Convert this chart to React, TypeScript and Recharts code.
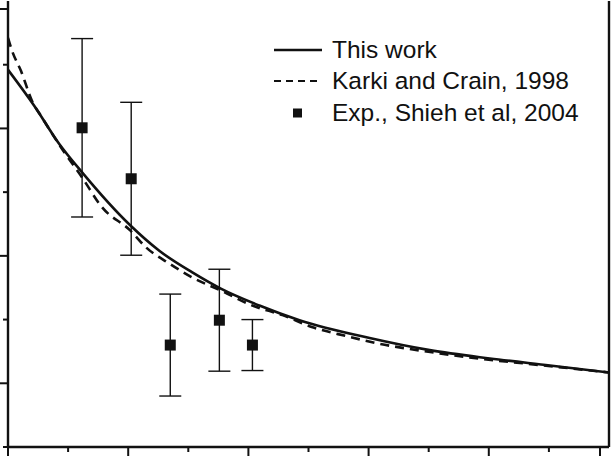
import React from 'react';
import {
  ComposedChart,
  Line,
  Scatter,
  ErrorBar,
  XAxis,
  YAxis,
  Legend
} from 'recharts';

// "This work" curve
const thisWorkX = [0, 4.33, 8.5, 12.33, 20.33, 25.17, 30.67, 35.33, 41.83, 48.5, 60.17, 70.17, 80.17, 90.17, 100];
const thisWorkY = [5.92, 5.36, 4.76, 4.31, 3.48, 3.08, 2.74, 2.49, 2.22, 1.99, 1.71, 1.52, 1.39, 1.28, 1.17];

// Karki and Crain, 1998 curve
const karkiX = [0, 0.67, 2.17, 4, 5.67, 8.83, 12.33, 15.67, 20.33, 23, 26.83, 30.67, 35.33, 40.67, 45.67, 50.67, 56.33, 61.33, 71.83, 79, 84, 100];
const karkiY = [6.42, 6.22, 5.9, 5.43, 5.17, 4.7, 4.23, 3.76, 3.4, 3.13, 2.88, 2.66, 2.46, 2.22, 2.07, 1.88, 1.74, 1.63, 1.47, 1.38, 1.33, 1.17];

// Exp., Shieh et al, 2004
const expX = [12.33, 20.5, 27, 35.17, 40.67];
const expY = [5.01, 4.21, 1.6, 1.99, 1.6];
const expErr = [1.4, 1.2, 0.8, 0.8, 0.4];

const xTicks = [0, 10, 20, 30, 40, 50, 60, 70, 80, 90, 100];
const yTicks = [0, 1, 2, 3, 4, 5, 6, 7];

const thisWork = thisWorkX.map((x, i) => ({ x, y: thisWorkY[i] }));
const karki = karkiX.map((x, i) => ({ x, y: karkiY[i] }));
const exp = expX.map((x, i) => ({ x, y: expY[i], err: [expErr[i], expErr[i]] }));

const INK = '#111';

const XTick = (props: any) => {
  const { x, y, payload } = props;
  const major = payload.value % 20 === 0;
  return <line x1={x} x2={x} y1={y} y2={y + (major ? 9 : 5)} stroke={INK} strokeWidth={2} />;
};

const YTick = (props: any) => {
  const { x, y, payload } = props;
  const major = payload.value % 2 === 1;
  return <line x1={x - (major ? 9 : 5)} x2={x} y1={y} y2={y} stroke={INK} strokeWidth={2} />;
};

const Square = (props: any) => {
  const { cx, cy } = props;
  return <rect x={cx - 5.5} y={cy - 5.5} width={11} height={11} fill={INK} />;
};

const renderLegend = () => {
  const row: React.CSSProperties = { display: 'flex', alignItems: 'center', height: 31.5 };
  const label: React.CSSProperties = { marginLeft: 9, fontSize: 24.5, color: INK, whiteSpace: 'nowrap' };
  return (
    <div style={{ fontFamily: '"Liberation Sans", Arial, sans-serif' }}>
      <div style={row}>
        <svg width={50} height={10}><line x1={1} x2={49} y1={5} y2={5} stroke={INK} strokeWidth={2.6} /></svg>
        <span style={label}>This work</span>
      </div>
      <div style={row}>
        <svg width={50} height={10}><line x1={1} x2={49} y1={5} y2={5} stroke={INK} strokeWidth={2.2} strokeDasharray="7 5" /></svg>
        <span style={label}>Karki and Crain, 1998</span>
      </div>
      <div style={row}>
        <svg width={50} height={10}><rect x={20} y={0.5} width={9} height={9} fill={INK} /></svg>
        <span style={label}>Exp., Shieh et al, 2004</span>
      </div>
    </div>
  );
};

export default function App() {
  return (
    <div style={{ position: 'absolute', left: 0, top: 0, width: 612, height: 457, background: '#fff' }}>
      <ComposedChart width={612} height={457} margin={{ top: 1, right: 0, left: 0, bottom: 0 }}>
        <XAxis
          xAxisId="bottom"
          dataKey="x"
          type="number"
          domain={[0, 100]}
          ticks={xTicks}
          height={10}
          tickSize={0}
          tickMargin={0}
          tickLine={false}
          tick={<XTick />}
          axisLine={{ stroke: INK, strokeWidth: 2.4 }}
          allowDataOverflow
        />
        <XAxis
          xAxisId="top"
          orientation="top"
          type="number"
          domain={[0, 100]}
          height={0}
          tick={false}
          tickLine={false}
          axisLine={{ stroke: INK, strokeWidth: 2.4 }}
        />
        <YAxis
          yAxisId="left"
          type="number"
          domain={[0, 7]}
          ticks={yTicks}
          width={8}
          tickSize={0}
          tickMargin={0}
          tickLine={false}
          tick={<YTick />}
          axisLine={{ stroke: INK, strokeWidth: 2.4 }}
          allowDataOverflow
        />
        <YAxis
          yAxisId="right"
          orientation="right"
          type="number"
          domain={[0, 7]}
          width={3}
          tick={false}
          tickLine={false}
          axisLine={{ stroke: INK, strokeWidth: 2.4 }}
        />
        <Legend
          layout="horizontal"
          verticalAlign="middle"
          align="center"
          content={renderLegend}
          wrapperStyle={{ left: 273, top: 34, width: 336 }}
        />
        <Line
          xAxisId="bottom"
          yAxisId="left"
          data={karki}
          dataKey="y"
          type="monotone"
          stroke={INK}
          strokeWidth={2.6}
          strokeDasharray="9 6"
          dot={false}
          activeDot={false}
          isAnimationActive={false}
        />
        <Line
          xAxisId="bottom"
          yAxisId="left"
          data={thisWork}
          dataKey="y"
          type="monotone"
          stroke={INK}
          strokeWidth={2.6}
          dot={false}
          activeDot={false}
          isAnimationActive={false}
        />
        <Scatter
          xAxisId="bottom"
          yAxisId="left"
          data={exp}
          dataKey="y"
          shape={<Square />}
          isAnimationActive={false}
        >
          <ErrorBar dataKey="err" direction="y" width={11} stroke={INK} strokeWidth={1.4} />
        </Scatter>
      </ComposedChart>
    </div>
  );
}
